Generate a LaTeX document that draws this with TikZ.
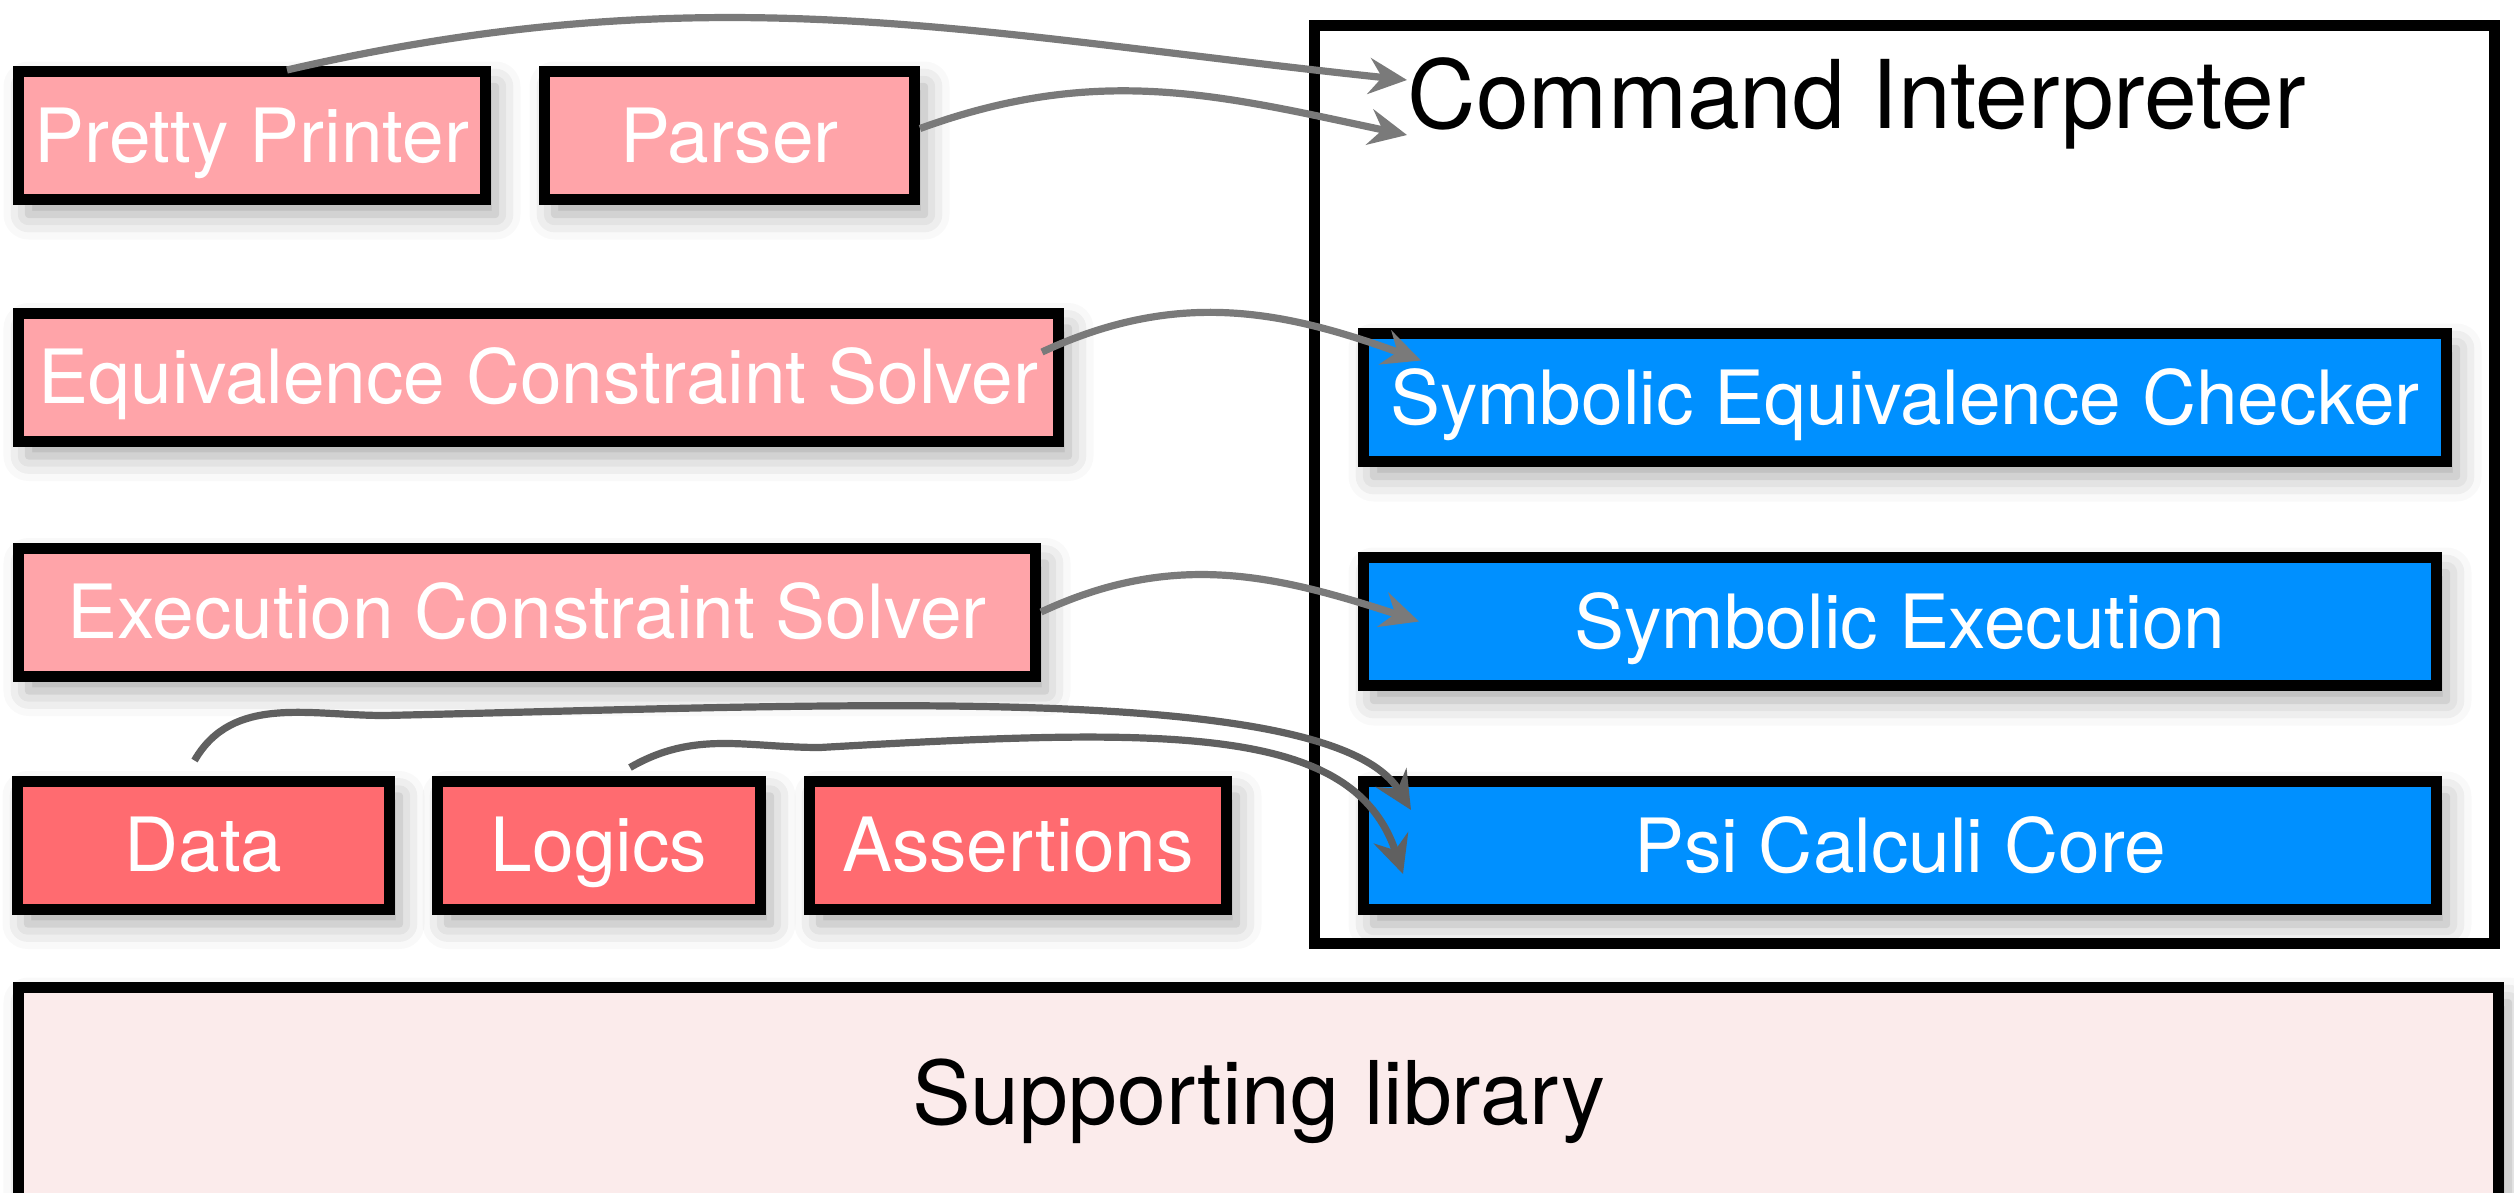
\documentclass[tikz,border=0pt]{standalone}
\usepackage{fontspec}
\setmainfont{TeX Gyre Heros}
\usetikzlibrary{arrows.meta,shadows.blur}

\definecolor{softred}{RGB}{255,164,169}
\definecolor{hardred}{RGB}{255,107,112}
\definecolor{coreblue}{RGB}{0,144,255}
\definecolor{libpink}{RGB}{251,235,235}
\definecolor{linkgray}{RGB}{122,122,122}
\definecolor{darklink}{RGB}{96,96,96}

\begin{document}
\begin{tikzpicture}[
    box/.style={draw=black, line width=1.1mm, inner sep=0pt, text=white,
      minimum height=1.28cm, text height=15.3pt, text depth=0pt,
      font=\fontsize{21.3pt}{25pt}\selectfont,
      blur shadow={shadow xshift=1mm, shadow yshift=-1.5mm,
        shadow blur radius=2.5mm, shadow opacity=35}},
    link/.style={draw=linkgray, line width=0.72mm,
      -{Stealth[length=3.8mm,width=3.6mm,inset=1.3mm]}},
  ]
    \useasboundingbox (0,0) rectangle (25.14,-11.92);
    \clip (0,0) rectangle (25.14,-11.92);

    % --- Interpreter frame ---
    \node[draw, line width=1.1mm, inner sep=0pt, minimum width=11.80cm,
      minimum height=9.18cm] (interp) at (19.045,-4.845) {};
    \node[anchor=base west, inner sep=0pt, font=\fontsize{27pt}{32pt}\selectfont]
      (citext) at (14.07,-1.28) {Command Interpreter};

    % --- Front ends and solvers ---
    \foreach \name/\x/\y/\w/\txt in {printer/2.52/-1.355/4.67/Pretty Printer,
        parser/7.295/-1.355/3.70/Parser,
        eqsolver/5.385/-3.77/10.40/Equivalence Constraint Solver,
        exsolver/5.27/-6.12/10.17/Execution Constraint Solver}{
        \node[box, fill=softred, minimum width=\w cm] (\name) at (\x,\y) {\txt};
    }

    % --- Instances ---
    \foreach \name/\x/\w/\txt in {data/2.035/3.72/Data,
        logics/5.99/3.23/Logics,
        assertions/10.18/4.17/Assertions}{
        \node[box, fill=hardred, minimum width=\w cm] (\name) at (\x,-8.45) {\txt};
    }

    % --- Inside the interpreter ---
    \foreach \name/\y/\w/\txt in {sec/-3.975/10.83/Symbolic Equivalence Checker,
        sexec/-6.215/10.73/Symbolic Execution,
        psi/-8.455/10.73/Psi Calculi Core}{
        \node[box, fill=coreblue, minimum width=\w cm, anchor=west] (\name) at (13.58,\y) {\txt};
    }

    % --- Supporting library ---
    \node[box, fill=libpink, text=black, minimum width=24.80cm, minimum height=2.12cm,
      text height=17.9pt, font=\fontsize{25pt}{30pt}\selectfont]
      (suplib) at (12.585,-10.935) {Supporting library};

    % --- Links ---
    \draw[link] ([xshift=3.5mm,yshift=-0.4mm]printer.north) to[out=13,in=174] ([yshift=4.8mm]citext.base west);
    \draw[link] ([yshift=0.7mm]parser.east) to[out=20,in=168] ([yshift=-0.7mm]citext.base west);
    \draw[link] ([xshift=-2.2mm,yshift=2.5mm]eqsolver.east) to[out=25,in=160]
      ([xshift=6.3mm,yshift=3.7mm]sec.west);
    \draw[link] (exsolver.east) to[out=25,in=162] ([xshift=6.1mm]sexec.west);
    \draw[link, draw=darklink] ([xshift=-0.9mm,yshift=1.5mm]data.north) to[out=60,in=180] ++(1.9,0.45)
      .. controls +(4.5,0.1) and +(-0.8,1.3) .. ([xshift=5.3mm,yshift=3.55mm]psi.west);
    \draw[link, draw=darklink] ([xshift=3.1mm,yshift=0.8mm]logics.north) to[out=30,in=180] ++(1.9,0.2)
      .. controls +(3.5,0.2) and +(-0.5,1.5) .. ([xshift=4.5mm,yshift=-2.85mm]psi.west);
\end{tikzpicture}
\end{document}
